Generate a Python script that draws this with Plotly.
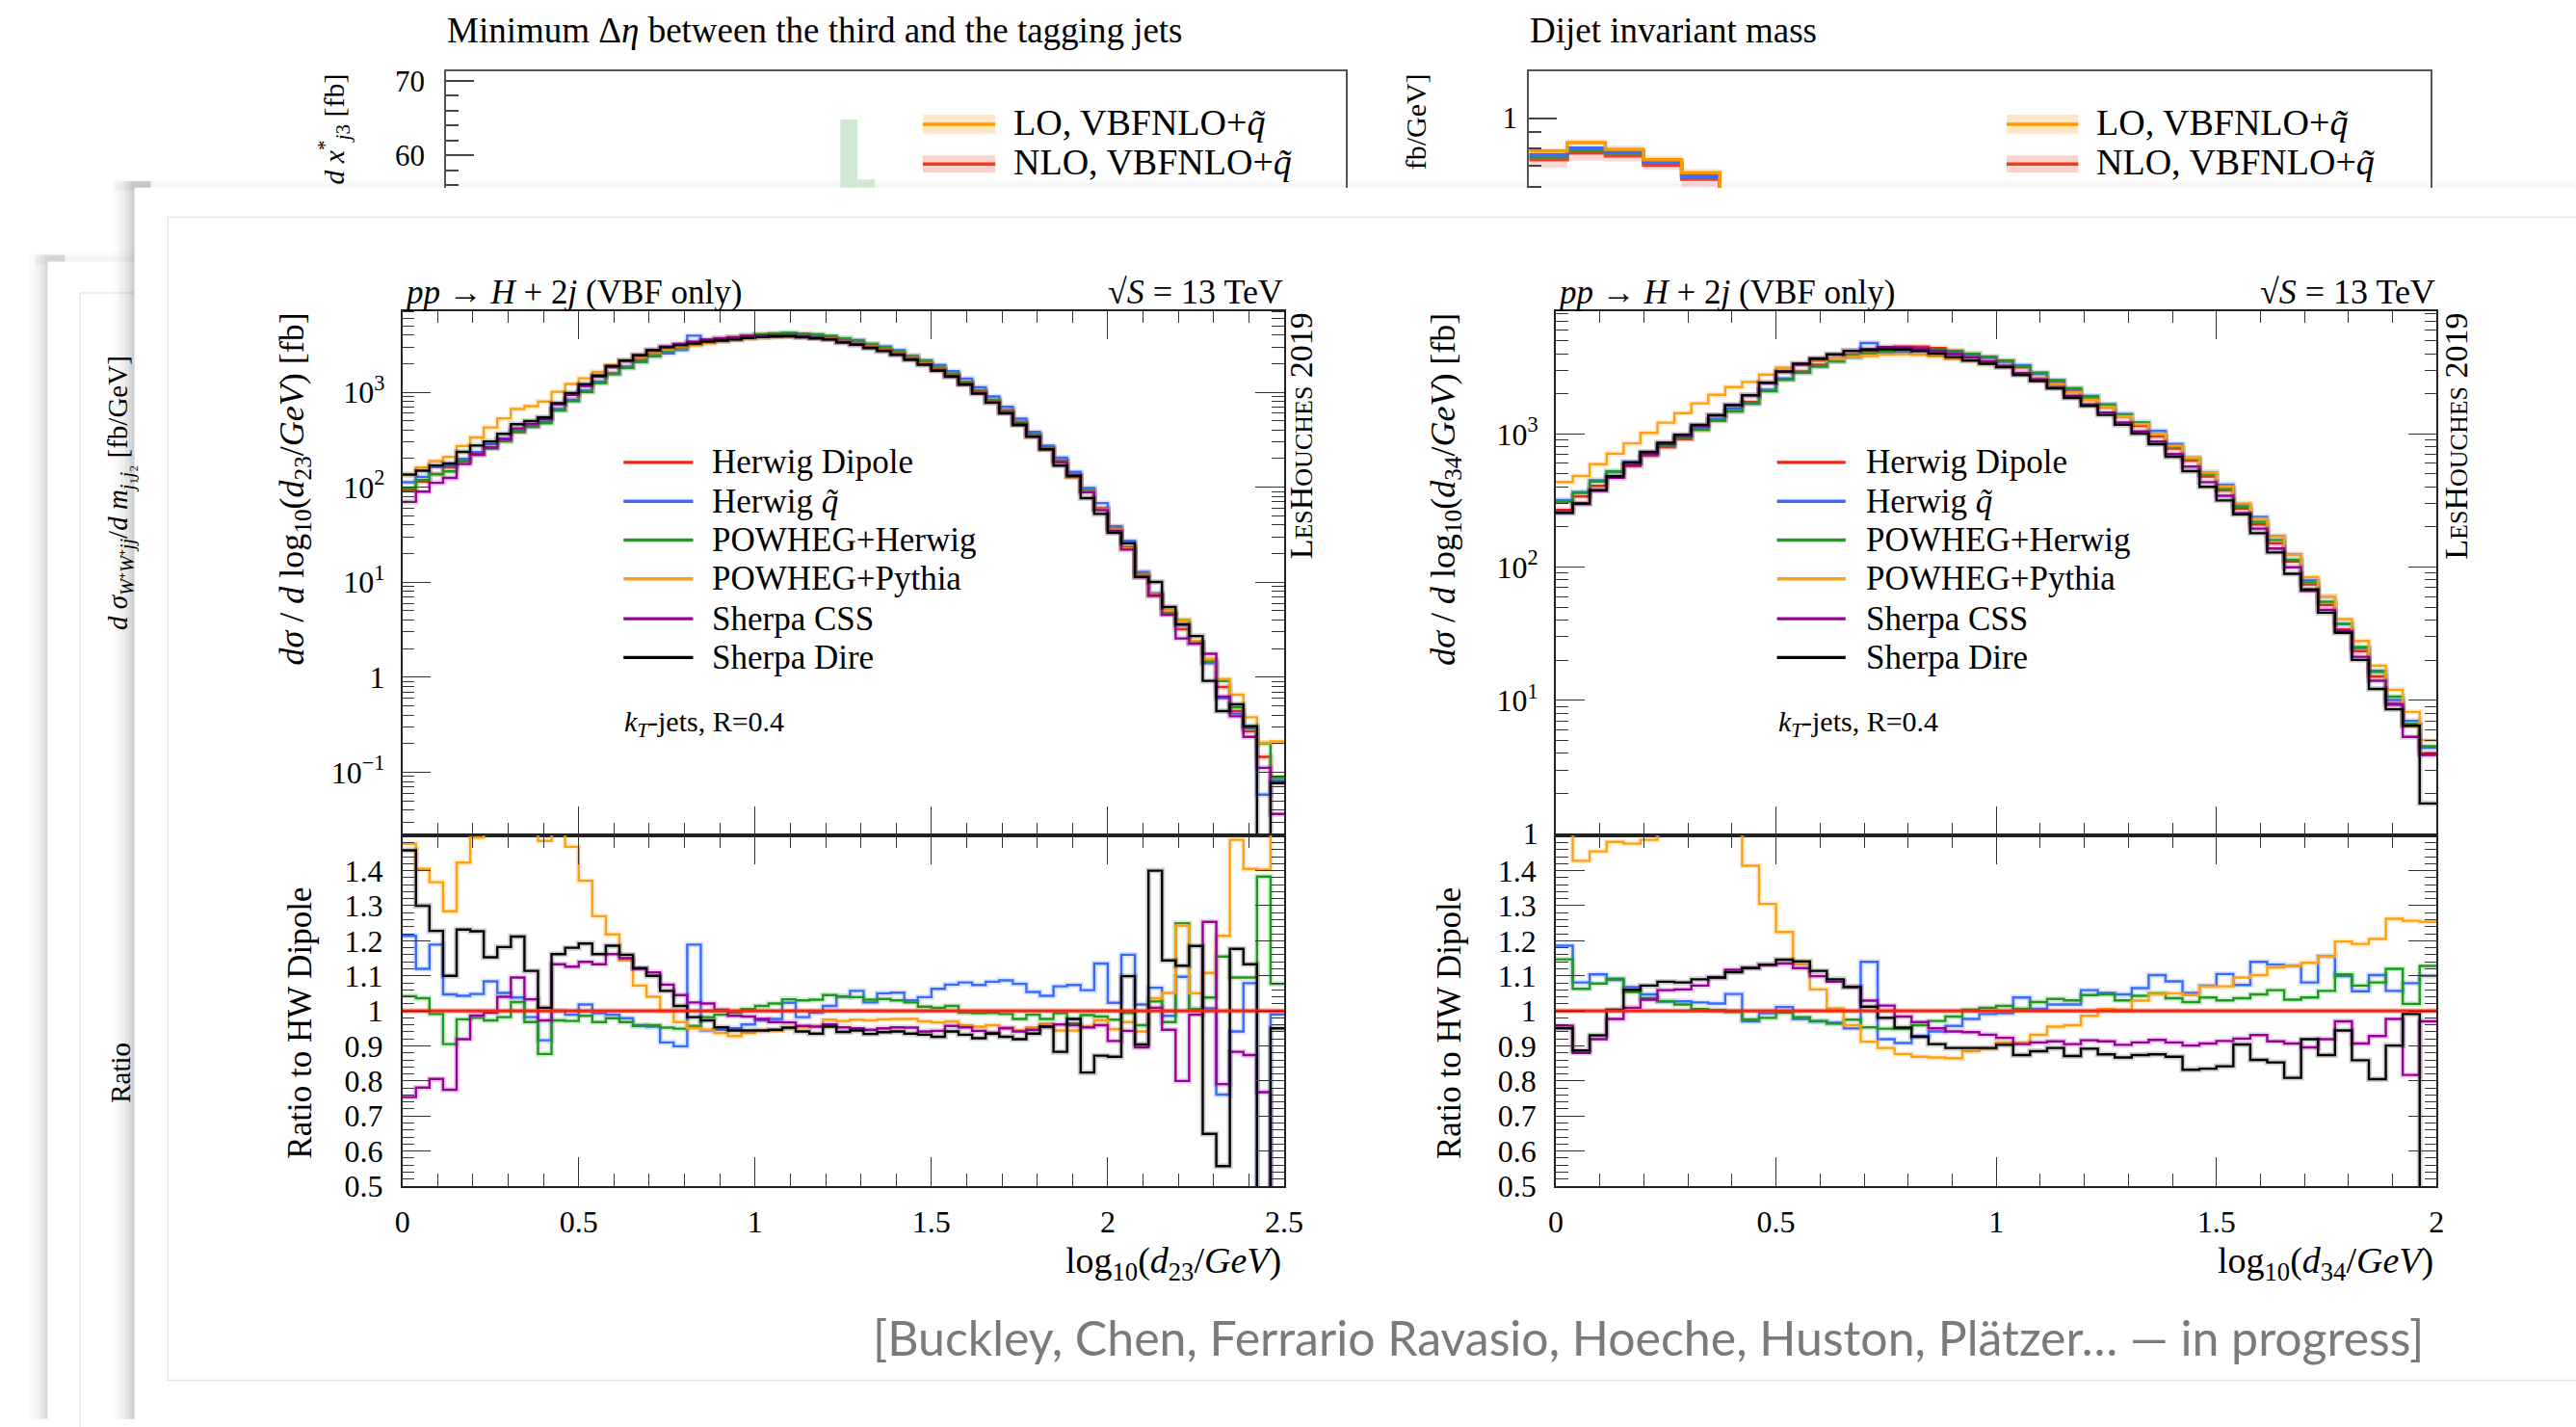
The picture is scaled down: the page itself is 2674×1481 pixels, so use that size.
import plotly.graph_objects as go

W, H = 2674, 1481
SERIF = "Liberation Serif"


def fx(p):
    return p / W


def fy(p):
    return 1 - p / H


# ---------------------------------------------------------------- data
series_names = ["Herwig Dipole", "Herwig <i>q̃</i>", "POWHEG+Herwig",
                "POWHEG+Pythia", "Sherpa CSS", "Sherpa Dire"]
series_colors = ["#ee2a16", "#3b6cff", "#1f9a1f", "#ffa014", "#990099", "#000000"]

d23_lo, d23_hi, d23_nbins = 0.0, 2.5, 65
d34_lo, d34_hi, d34_nbins = 0.0, 2.0, 52

# Herwig Dipole reference, d sigma / d log10(d23/GeV) [fb]
d23_ref = [93, 115, 138, 162, 191, 224, 263, 309, 380, 447,
           537, 661, 832, 1023, 1288, 1585, 1862, 2188, 2512, 2818,
           3090, 3311, 3508, 3673, 3802, 3936, 4027, 4074, 4074, 4027,
           3936, 3758, 3548, 3350, 3126, 2884, 2630, 2344, 2089, 1820,
           1549, 1288, 1047, 832, 646, 490, 363, 263, 191, 135,
           93, 60, 38, 23.4, 12.6, 7.2, 4.8, 3.2, 2.29, 1.41,
           0.79, 0.44, 0.27, 0.145, 0.081]

# ratios to Herwig Dipole
d23_ratio_herwig_qt = [1.214, 1.12, 1.189, 1.047, 1.043, 1.048, 1.084, 1.051, 1.038, 0.982,
                       0.916, 1.0, 0.989, 1.018, 0.993, 0.989, 0.979, 0.959, 0.955, 0.91,
                       0.899, 1.189, 0.944, 0.946, 0.95, 0.961, 0.973, 0.977, 1.023, 0.982,
                       0.995, 1.014, 1.041, 1.057, 1.024, 1.05, 1.052, 1.03, 1.039, 1.063,
                       1.075, 1.081, 1.074, 1.083, 1.087, 1.077, 1.054, 1.043, 1.07, 1.074,
                       1.059, 1.135, 1.023, 1.16, 1.018, 1.066, 0.986, 1.097, 1.005, 1.007,
                       0.761, 0.941, 1.079, 0.40, 0.99]
d23_ratio_powheg_herwig = [1.042, 1.036, 0.991, 0.905, 0.976, 0.98, 0.973, 0.982, 1.025, 0.968,
                           0.877, 0.973, 0.971, 0.986, 0.968, 0.979, 0.968, 0.957, 0.959, 0.952,
                           0.949, 0.957, 0.982, 0.989, 0.995, 1.005, 1.014, 1.021, 1.033, 1.03,
                           1.032, 1.045, 1.041, 1.039, 1.032, 1.034, 1.03, 1.024, 1.012, 1.009,
                           1.014, 0.995, 0.993, 0.994, 0.991, 0.977, 0.989, 0.977, 0.993, 0.964,
                           0.988, 0.984, 0.975, 0.994, 0.959, 1.027, 0.968, 1.25, 1.005, 1.038,
                           1.155, 1.095, 1.095, 1.383, 1.077]
d23_ratio_powheg_pythia = [1.477, 1.405, 1.367, 1.284, 1.423, 1.494, 1.62, 1.72, 1.75, 1.6,
                           1.485, 1.53, 1.468, 1.371, 1.27, 1.218, 1.144, 1.072, 1.04, 1.0,
                           0.968, 0.95, 0.946, 0.937, 0.928, 0.937, 0.944, 0.944, 0.95, 0.955,
                           0.957, 0.975, 0.971, 0.975, 0.973, 0.976, 0.977, 0.977, 0.97, 0.967,
                           0.97, 0.959, 0.955, 0.959, 0.953, 0.944, 0.953, 0.964, 0.944, 0.944,
                           0.955, 0.973, 0.948, 0.968, 0.941, 1.036, 1.051, 1.243, 1.05, 1.108,
                           1.214, 1.488, 1.405, 1.403, 2.6]
d23_ratio_sherpa_css = [0.754, 0.781, 0.806, 0.775, 0.919, 0.987, 0.995, 1.04, 1.095, 1.033,
                        0.973, 1.133, 1.126, 1.14, 1.133, 1.162, 1.15, 1.12, 1.11, 1.075,
                        1.045, 1.024, 1.021, 1.003, 0.986, 0.984, 0.977, 0.968, 0.967, 0.957,
                        0.955, 0.961, 0.953, 0.95, 0.946, 0.95, 0.953, 0.952, 0.941, 0.943,
                        0.957, 0.953, 0.943, 0.937, 0.95, 0.941, 0.946, 0.955, 0.961, 0.959,
                        0.953, 0.959, 0.914, 0.943, 0.896, 1.009, 0.946, 0.80, 0.989, 1.254,
                        0.791, 0.883, 0.874, 0.768, 0.45]
d23_ratio_sherpa_dire = [1.458, 1.30, 1.228, 1.10, 1.232, 1.227, 1.153, 1.182, 1.212, 1.114,
                         1.009, 1.162, 1.18, 1.192, 1.162, 1.186, 1.16, 1.122, 1.10, 1.057,
                         1.014, 0.982, 0.973, 0.953, 0.944, 0.944, 0.944, 0.946, 0.952, 0.941,
                         0.935, 0.955, 0.94, 0.944, 0.934, 0.939, 0.941, 0.935, 0.932, 0.926,
                         0.941, 0.932, 0.922, 0.935, 0.926, 0.919, 0.935, 0.955, 0.883, 0.977,
                         0.824, 0.872, 0.869, 1.099, 0.904, 1.40, 1.144, 1.129, 1.185, 0.649,
                         0.557, 1.177, 1.133, 0.05, 0.95]

d34_ref = [269, 339, 407, 479, 575, 684, 794, 912, 1072, 1259,
           1479, 1738, 2138, 2570, 2951, 3311, 3631, 3936, 4217, 4416,
           4519, 4519, 4416, 4217, 3981, 3758, 3508, 3162, 2818, 2455,
           2138, 1820, 1585, 1349, 1148, 955, 776, 631, 479, 376,
           275, 209, 151, 110, 74, 52, 34, 23.4, 15.1, 9.5,
           6.5, 4.0]
d34_ratio_herwig_qt = [1.186, 1.081, 1.104, 1.088, 1.068, 1.047, 1.027, 1.027, 1.024, 1.021,
                       1.048, 0.97, 0.993, 1.011, 0.977, 0.97, 0.966, 0.95, 1.14, 0.919,
                       0.908, 0.928, 0.941, 0.957, 0.977, 0.991, 0.993, 1.038, 1.006, 1.018,
                       1.018, 1.059, 1.051, 1.047, 1.065, 1.102, 1.084, 1.051, 1.072, 1.105,
                       1.074, 1.14, 1.132, 1.129, 1.081, 1.156, 1.099, 1.056, 1.102, 1.057,
                       1.079, 1.10]
d34_ratio_powheg_herwig = [1.147, 1.063, 1.078, 1.092, 1.054, 1.036, 1.027, 1.018, 1.005, 1.002,
                           0.997, 0.976, 0.98, 0.995, 0.982, 0.971, 0.964, 0.975, 0.953, 0.949,
                           0.949, 0.959, 0.971, 0.984, 1.003, 1.009, 1.014, 1.006, 1.025, 1.034,
                           1.03, 1.045, 1.047, 1.03, 1.043, 1.05, 1.036, 1.025, 1.038, 1.03,
                           1.036, 1.047, 1.059, 1.032, 1.038, 1.057, 1.104, 1.072, 1.081, 1.12,
                           1.02, 1.128]
d34_ratio_powheg_pythia = [1.62, 1.428, 1.455, 1.482, 1.477, 1.488, 1.53, 1.57, 1.58, 1.56,
                           1.52, 1.414, 1.305, 1.225, 1.133, 1.061, 1.007, 0.959, 0.912, 0.894,
                           0.877, 0.869, 0.867, 0.865, 0.885, 0.892, 0.91, 0.91, 0.932, 0.955,
                           0.959, 0.986, 1.005, 1.003, 1.029, 1.048, 1.05, 1.045, 1.07, 1.07,
                           1.095, 1.102, 1.124, 1.128, 1.137, 1.155, 1.198, 1.191, 1.205, 1.263,
                           1.257, 1.254]
d34_ratio_sherpa_css = [0.958, 0.88, 0.919, 0.977, 1.009, 1.032, 1.059, 1.061, 1.072, 1.095,
                        1.117, 1.123, 1.131, 1.135, 1.122, 1.099, 1.083, 1.068, 1.029, 1.015,
                        0.984, 0.968, 0.95, 0.941, 0.939, 0.932, 0.923, 0.905, 0.91, 0.913,
                        0.905, 0.916, 0.913, 0.903, 0.91, 0.917, 0.91, 0.901, 0.907, 0.914,
                        0.921, 0.931, 0.913, 0.907, 0.896, 0.919, 0.97, 0.907, 0.928, 0.977,
                        0.817, 0.97]
d34_ratio_sherpa_dire = [0.95, 0.887, 0.93, 1.003, 1.06, 1.072, 1.083, 1.081, 1.09, 1.095,
                         1.11, 1.122, 1.132, 1.146, 1.141, 1.114, 1.09, 1.068, 1.012, 0.98,
                         0.952, 0.926, 0.905, 0.894, 0.894, 0.894, 0.903, 0.874, 0.885, 0.894,
                         0.871, 0.892, 0.876, 0.867, 0.874, 0.876, 0.869, 0.832, 0.835, 0.842,
                         0.904, 0.86, 0.853, 0.809, 0.919, 0.874, 0.944, 0.859, 0.805, 0.901,
                         0.991, 0.42]

ratio_ticks = [0.5, 0.6, 0.7, 0.8, 0.9, 1.0, 1.1, 1.2, 1.3, 1.4]
ratio_ticktext = ["0.5", "0.6", "0.7", "0.8", "0.9", "1", "1.1", "1.2", "1.3", "1.4"]
d23_logticks = [0.1, 1, 10, 100, 1000]
d23_logticktext = ["10<sup>−1</sup>", "1", "10<sup>1</sup>", "10<sup>2</sup>", "10<sup>3</sup>"]
d34_logticks = [1, 10, 100, 1000]
d34_logticktext = ["1", "10<sup>1</sup>", "10<sup>2</sup>", "10<sup>3</sup>"]
d23_xticks = [0, 0.5, 1, 1.5, 2, 2.5]
d34_xticks = [0, 0.5, 1, 1.5, 2]

# background slide: "Minimum Delta eta" panel (only top strip visible)
back_deta_centers = [2.35, 2.45]
back_deta_band_top = [64.8, 56.8]
# background slide: "Dijet invariant mass" panel (only top strip visible)
back_mjj_edges = [0, 100, 200, 300, 400, 500, 600]
back_mjj_lo = [0.782, 0.833, 0.793, 0.734, 0.666, 0.55]
back_mjj_lo_up = [0.80, 0.855, 0.815, 0.755, 0.685, 0.565]
back_mjj_lo_dn = [0.765, 0.815, 0.775, 0.716, 0.650, 0.535]
back_mjj_nlo = [0.734, 0.771, 0.755, 0.704, 0.634, 0.52]
back_mjj_nlo_up = [0.77, 0.815, 0.79, 0.735, 0.665, 0.545]
back_mjj_nlo_dn = [0.69, 0.728, 0.725, 0.68, 0.60, 0.50]
back_mjj_blue = [0.760, 0.799, 0.777, 0.719, 0.647, 0.53]
back_mjj_green = [0.750, 0.788, 0.771, 0.724, 0.656, 0.54]

# ---------------------------------------------------------------- figure
fig = go.Figure()


def edges_of(lo, hi, n):
    return [lo + (hi - lo) * i / n for i in range(n + 1)]


def add_step(edges, vals, xa, ya, color, width, opacity=1.0, **kw):
    fig.add_trace(go.Scatter(
        x=edges, y=list(vals) + [vals[-1]], mode="lines",
        line=dict(color=color, width=width, shape="hv"), opacity=opacity,
        xaxis=xa, yaxis=ya, showlegend=False, hoverinfo="skip", **kw))


def add_panel(edges, ref, ratios, xm, ym, xr, yr):
    series = [[1.0] * len(ref)] + ratios
    mains = [[r * q for r, q in zip(ref, s)] for s in series]
    for k, vals in enumerate(mains):
        add_step(edges, vals, xm, ym, series_colors[k], 6, 0.18)
        add_step(edges, vals, xm, ym, series_colors[k], 2.4)
    order = list(range(1, len(series))) + [0]
    for k in order:
        add_step(edges, series[k], xr, yr, series_colors[k], 6, 0.18)
        add_step(edges, series[k], xr, yr, series_colors[k], 3.4 if k == 0 else 2.4)


e23 = edges_of(d23_lo, d23_hi, d23_nbins)
e34 = edges_of(d34_lo, d34_hi, d34_nbins)
add_panel(e23, d23_ref, [d23_ratio_herwig_qt, d23_ratio_powheg_herwig, d23_ratio_powheg_pythia,
                         d23_ratio_sherpa_css, d23_ratio_sherpa_dire], "x", "y", "x2", "y2")
add_panel(e34, d34_ref, [d34_ratio_herwig_qt, d34_ratio_powheg_herwig, d34_ratio_powheg_pythia,
                         d34_ratio_sherpa_css, d34_ratio_sherpa_dire], "x3", "y3", "x4", "y4")

# background panels
fig.add_trace(go.Bar(x=back_deta_centers, y=back_deta_band_top, width=0.1,
                     marker=dict(color="#cfe8cf", line=dict(width=0)),
                     xaxis="x5", yaxis="y5", showlegend=False, hoverinfo="skip"))
add_step(back_mjj_edges, back_mjj_nlo_dn, "x6", "y6", "rgba(0,0,0,0)", 0)
add_step(back_mjj_edges, back_mjj_nlo_up, "x6", "y6", "rgba(0,0,0,0)", 0,
         fill="tonexty", fillcolor="rgba(240,120,110,0.28)")
add_step(back_mjj_edges, back_mjj_lo_dn, "x6", "y6", "rgba(0,0,0,0)", 0)
add_step(back_mjj_edges, back_mjj_lo_up, "x6", "y6", "rgba(0,0,0,0)", 0,
         fill="tonexty", fillcolor="rgba(255,170,60,0.30)")
add_step(back_mjj_edges, back_mjj_nlo, "x6", "y6", "#e8402a", 3.5)
add_step(back_mjj_edges, back_mjj_green, "x6", "y6", "#2a9a2a", 3.5)
add_step(back_mjj_edges, back_mjj_blue, "x6", "y6", "#3b6cff", 3.5)
add_step(back_mjj_edges, back_mjj_lo, "x6", "y6", "#ff9900", 3.5)

# ---------------------------------------------------------------- axes
TICKFONT = dict(family=SERIF, size=32, color="black")
frame = dict(showline=True, linecolor="#222", linewidth=1.6, mirror="allticks",
             ticks="inside", tickcolor="#333", tickwidth=1.4, showgrid=False,
             zeroline=False, tickfont=TICKFONT)
minor_x = dict(dtick=0.1, tick0=0, ticklen=13, ticks="inside", tickcolor="#333", tickwidth=1.4)
minor_r = dict(dtick=0.02, tick0=0.5, ticklen=13, ticks="inside", tickcolor="#333", tickwidth=1.4)


def log_minor(lo_exp, hi_exp):
    vals = []
    for e in range(lo_exp, hi_exp + 1):
        for m in range(2, 10):
            vals.append(m * 10.0 ** e)
    return dict(tickmode="array", tickvals=vals, ticklen=13, ticks="inside",
                tickcolor="#333", tickwidth=1.4)


XL = [fx(414), fx(1339)]
XR = [fx(1624), fx(2548)]
YM = [fy(875), fy(321)]
YR = [fy(1245), fy(875)]

layout_axes = dict(
    xaxis=dict(domain=XL, range=[d23_lo, d23_hi], anchor="y", tickmode="array",
               tickvals=d23_xticks, ticklen=30, showticklabels=False, minor=minor_x, **frame),
    yaxis=dict(domain=YM, type="log", range=[-1.667, 3.857], anchor="x", tickmode="array",
               tickvals=d23_logticks, ticktext=d23_logticktext, ticklen=30,
               ticklabelstandoff=10, minor=log_minor(-2, 3), **frame),
    xaxis2=dict(domain=XL, range=[d23_lo, d23_hi], anchor="y2", tickmode="array",
                tickvals=d23_xticks, ticktext=[str(v) for v in d23_xticks], ticklen=30,
                ticklabelstandoff=8, minor=minor_x, **frame),
    yaxis2=dict(domain=YR, range=[0.5, 1.5], anchor="x2", tickmode="array",
                tickvals=ratio_ticks, ticktext=ratio_ticktext, ticklen=30,
                ticklabelstandoff=12, minor=minor_r, **frame),
    xaxis3=dict(domain=XR, range=[d34_lo, d34_hi], anchor="y3", tickmode="array",
                tickvals=d34_xticks, ticklen=30, showticklabels=False, minor=minor_x, **frame),
    yaxis3=dict(domain=YM, type="log", range=[-0.016, 3.924], anchor="x3", tickmode="array",
                tickvals=d34_logticks, ticktext=d34_logticktext, ticklen=30,
                ticklabelstandoff=10, minor=log_minor(0, 3), **frame),
    xaxis4=dict(domain=XR, range=[d34_lo, d34_hi], anchor="y4", tickmode="array",
                tickvals=d34_xticks, ticktext=[str(v) for v in d34_xticks], ticklen=30,
                ticklabelstandoff=8, minor=minor_x, **frame),
    yaxis4=dict(domain=YR, range=[0.5, 1.5], anchor="x4", tickmode="array",
                tickvals=ratio_ticks, ticktext=ratio_ticktext, ticklen=30,
                ticklabelstandoff=12, minor=minor_r, **frame),
    # background slide panels
    xaxis5=dict(domain=[fx(460), fx(1404)], range=[0, 5.25], anchor="y5", side="top",
                showline=True, linecolor="#555", linewidth=2, ticks="", showticklabels=False,
                showgrid=False, zeroline=False),
    yaxis5=dict(domain=[fy(191), fy(68)], range=[55.7, 71.27], anchor="x5",
                showline=True, mirror=True, linecolor="#555", linewidth=2,
                ticks="inside", ticklen=29, tickcolor="#444", tickwidth=1.6,
                tickmode="array", tickvals=[60, 70], ticklabelstandoff=14,
                minor=dict(dtick=2, tick0=0, ticks="inside", ticklen=13,
                           tickcolor="#444", tickwidth=1.6),
                showgrid=False, zeroline=False, tickfont=dict(family=SERIF, size=31)),
    xaxis6=dict(domain=[fx(1596), fx(2542)], range=[0, 2365], anchor="y6", side="top",
                showline=True, linecolor="#555", linewidth=2, ticks="", showticklabels=False,
                showgrid=False, zeroline=False),
    yaxis6=dict(domain=[fy(191), fy(68)], type="log", range=[-0.225, 0.152], anchor="x6",
                showline=True, mirror=True, linecolor="#555", linewidth=2,
                ticks="inside", ticklen=29, tickcolor="#444", tickwidth=1.6,
                tickmode="array", tickvals=[1], ticktext=["1"], ticklabelstandoff=4,
                minor=dict(tickmode="array", tickvals=[0.6, 0.7, 0.8, 0.9],
                           ticks="inside", ticklen=13, tickcolor="#444", tickwidth=1.6),
                showgrid=False, zeroline=False, tickfont=dict(family=SERIF, size=31)),
)

# ---------------------------------------------------------------- slide decoration
shapes = []


def rect(x0, y0, x1, y1, fill=None, line=None, lw=0, layer="below", opacity=1.0):
    d = dict(type="rect", xref="paper", yref="paper", x0=fx(x0), x1=fx(x1),
             y0=fy(y1), y1=fy(y0), layer=layer, opacity=opacity,
             line=dict(width=lw, color=line or "rgba(0,0,0,0)"))
    d["fillcolor"] = fill if fill else "rgba(0,0,0,0)"
    return d


# middle slide (soft shadow + body + inner frame)
for x0, op in [(22, 0.03), (27, 0.04), (31, 0.05), (35, 0.07), (39, 0.09)]:
    shapes.append(rect(x0, 262, 60, H + 10, fill="#777777", opacity=op))
for y0, op in [(260, 0.03), (264, 0.05)]:
    shapes.append(rect(30, y0, W + 20, 272, fill="#777777", opacity=op))
shapes.append(rect(42, 269, W + 20, H + 20, fill="#ffffff"))
shapes.append(rect(76, 302, W + 40, H + 40, line="#e8e8e8", lw=1.5))
# front slide
for x0, op in [(110, 0.03), (115, 0.04), (119, 0.06), (123, 0.08), (127, 0.10), (130, 0.10)]:
    shapes.append(rect(x0, 184, 150, H + 10, fill="#777777", opacity=op))
for y0, op in [(183, 0.03), (187, 0.05)]:
    shapes.append(rect(112, y0, W + 20, 194, fill="#777777", opacity=op))
shapes.append(rect(133, 191, W + 20, H + 20, fill="#ffffff"))
shapes.append(rect(168, 222, W + 40, 1450, line="#e6e6e6", lw=1.5))

# legend samples (front panels)
legend_rows = [481, 522, 563, 604, 646, 687]
for x0, x1 in [(646, 719), (1856, 1928)]:
    for k, yy in enumerate(legend_rows):
        shapes.append(dict(type="line", xref="paper", yref="paper", x0=fx(x0), x1=fx(x1),
                           y0=fy(yy), y1=fy(yy), line=dict(color=series_colors[k], width=3.4),
                           layer="above"))
# legend samples (background panels)
for x0, x1 in [(960, 1036), (2097, 2172)]:
    shapes.append(rect(x0, 114, x1, 134, fill="#ffe6c4", layer="above"))
    shapes.append(dict(type="line", xref="paper", yref="paper", x0=fx(x0), x1=fx(x1),
                       y0=fy(124), y1=fy(124), line=dict(color="#ff9900", width=3.5), layer="above"))
    shapes.append(rect(x0, 157, x1, 175, fill="#f9d3cb", layer="above"))
    shapes.append(dict(type="line", xref="paper", yref="paper", x0=fx(x0), x1=fx(x1),
                       y0=fy(166), y1=fy(166), line=dict(color="#ee3a20", width=3.5), layer="above"))

# ---------------------------------------------------------------- text
annotations = []


def ann(x, y, text, size, xanchor="left", yanchor="middle", angle=0, color="black",
        family=SERIF):
    annotations.append(dict(x=fx(x), y=fy(y), xref="paper", yref="paper", text=text,
                            showarrow=False, xanchor=xanchor, yanchor=yanchor,
                            textangle=angle, borderpad=0,
                            font=dict(size=size, color=color, family=family)))


LH = ("L<span style='font-size:26px'>ES</span>H<span style='font-size:26px'>OUCHES</span> 2019")
for (xl, xr, xlab, sub, ylab_x, rlab_x, lh_x, leg_x) in [
        (414, 1339, 1337, "23", 301, 307, 1357, 738),
        (1624, 2548, 2546, "34", 1508, 1513, 2568, 1948)]:
    ann(xl, 322, "<i>pp</i> → <i>H</i> + 2<i>j</i> (VBF only)", 35, "left", "bottom")
    ann(xr, 322, "√<i>S</i> = 13 TeV", 36, "right", "bottom")
    ann(lh_x, 322, LH, 34, "center", "top", -90)
    ann(ylab_x, 322, "<i>dσ</i> / <i>d</i> log<sub>10</sub>(<i>d</i><sub>" + sub +
        "</sub>/<i>GeV</i>) [fb]", 36, "center", "top", -90)
    ann(rlab_x, 1073, "Ratio to HW Dipole", 35, "center", "middle", -90)
    ann(xlab, 1326, "log<sub>10</sub>(<i>d</i><sub>" + sub + "</sub>/<i>GeV</i>)", 38,
        "right", "middle")
    for k, yy in enumerate(legend_rows):
        ann(leg_x, yy, series_names[k], 35, "left", "middle")
    ann(leg_x - 92, 757, "<i>k</i><sub><i>T</i></sub>-jets, R=0.4", 30, "left", "middle")

ann(2536, 1405, "[Buckley, Chen, Ferrario Ravasio, Hoeche, Huston, Plätzer… — in progress]",
    50, "right", "middle", color="#7a7a7a", family="Lato")

# background slide texts
ann(460, 25, "Minimum Δ<i>η</i> between the third and the tagging jets", 37, "left", "middle")
ann(1596, 25, "Dijet invariant mass", 37, "left", "middle")
for x in (1054, 2190):
    ann(x, 122, "LO, VBFNLO+<i>q̃</i>", 38, "left", "middle")
    ann(x, 164, "NLO, VBFNLO+<i>q̃</i>", 38, "left", "middle")
ann(342, 70, "<i>d x</i><sup>*</sup><sub><i>j</i>3</sub> [fb]", 30, "center", "top", -90)
ann(1477, 70, "fb/GeV]", 30, "center", "top", -90)
ann(118, 367, "<i>d σ</i><sub><i>W</i>⁺<i>W</i>⁺<i>jj</i></sub>/<i>d m</i><sub><i>j</i>₁<i>j</i>₂</sub> [fb/GeV]",
    29, "center", "top", -90)
ann(118, 1125, "Ratio", 29, "center", "middle", -90)

fig.update_layout(
    width=W, height=H, margin=dict(l=0, r=0, t=0, b=0, pad=0),
    paper_bgcolor="#ffffff", plot_bgcolor="rgba(0,0,0,0)",
    showlegend=False, shapes=shapes, annotations=annotations, barmode="overlay",
    font=dict(family=SERIF, size=30, color="black"),
    **layout_axes)

fig.write_html("out.html")
